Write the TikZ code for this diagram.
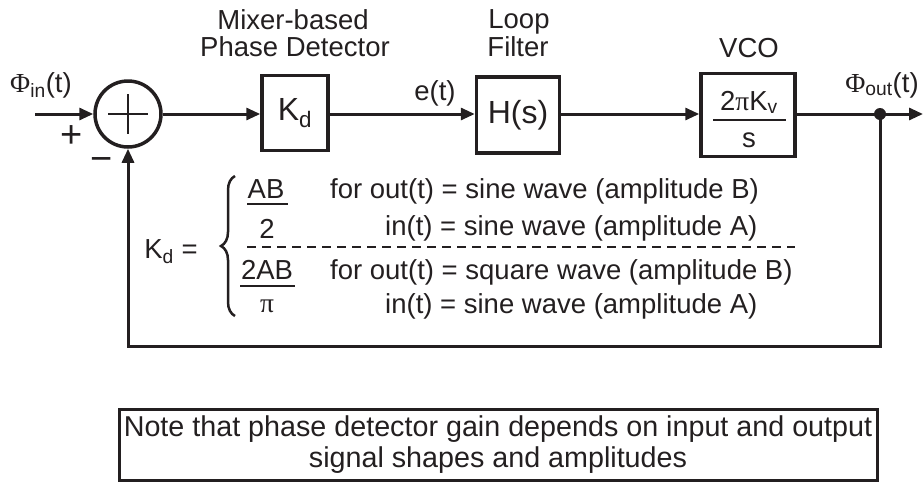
\documentclass[tikz,border=0pt]{standalone}
\usepackage{fontspec}
\setmainfont{Liberation Sans}
\newfontfamily\grk{Liberation Serif}
\usetikzlibrary{arrows.meta,decorations.pathreplacing}
\definecolor{ink}{RGB}{35,31,32}
\begin{document}
\begin{tikzpicture}[x=1pt,y=-1pt,
  every node/.style={text=ink, inner sep=0pt},
  wire/.style={draw=ink, line width=3pt},
  arr/.style={wire, -{Triangle[length=14pt,width=12pt]}},
  blk/.style={draw=ink, line width=3.5pt},
  txt/.style={font=\fontsize{27.5}{30}\selectfont},
  big/.style={font=\fontsize{32}{36}\selectfont},
  sign/.style={font=\fontsize{38}{40}\selectfont},
  thin/.style={draw=ink, line width=2.5pt}]
\useasboundingbox (0,0) rectangle (924,483);

% input
\coordinate (inp) at (35,114);
\node[circle, blk, minimum size=66pt] (sum) at (128,114) {};
\draw[draw=ink, line width=2pt] (sum.center) +(-20,0) -- +(20,0);
\draw[draw=ink, line width=2pt] (sum.center) +(0,-20) -- +(0,20);
\node[txt, anchor=base] (phiin) at (41,92) {{\grk Φ}\textsubscript{in}(t)};
\node[sign] (plus) at (72,137) {+};
\node[sign] (minus) at (102,164) {−};

% blocks
\node[blk, big, minimum width=66pt, minimum height=75pt] (kd) at (295,113) {K\textsubscript{d}};
\node[blk, big, minimum width=83pt, minimum height=76pt] (hs) at (518,115) {H(s)};
\node[blk, minimum width=94pt, minimum height=83pt] (vco) at (748,115) {};
\node[txt, anchor=base] (vnum) at (749,110) {2{\grk π}K\textsubscript{v}};
\node[txt, anchor=base] (vden) at (749,147) {s};
\coordinate (vl) at (713,120);
\coordinate (vr) at (786,120);
\draw[thin] (vl) -- (vr);

% titles
\node[txt, anchor=base] (t1) at (293,29) {Mixer-based};
\node[txt, anchor=base] (t2) at (295,56) {Phase Detector};
\node[txt, anchor=base] (t3) at (519,28) {Loop};
\node[txt, anchor=base] (t4) at (518,56) {Filter};
\node[txt, anchor=base] (t5) at (749,57) {VCO};
\node[txt, anchor=base] (et) at (435,100) {e(t)};
\node[txt, anchor=base] (phiout) at (882,92) {{\grk Φ}\textsubscript{out}(t)};

% connections
\coordinate (dot) at (880,114);
\coordinate (outp) at (923,114);
\coordinate (fbR) at (880,346);
\coordinate (fbL) at (128,346);
\draw[arr] (inp) -- (sum.west);
\draw[arr] (sum.east) -- (kd.west |- sum.east);
\draw[arr] (kd.east |- sum.east) -- (hs.west |- sum.east);
\draw[arr] (hs.east |- sum.east) -- (vco.west |- sum.east);
\draw[wire] (vco.east |- sum.east) -- (dot);
\draw[arr] (dot) -- (outp);
\draw[arr] (dot) -- (fbR) -- (fbL) -- (sum.south);
\fill[ink] (dot) circle (6pt);

% Kd equation
\node[txt, anchor=base] (kdeq) at (171,258) {K\textsubscript{d} =};
\draw[draw=ink, line width=2.5pt, decorate, decoration={brace, amplitude=14pt}] (235,316) -- (235,176);
\node[txt, anchor=base] (ab) at (266,198) {AB};
\node[txt, anchor=base] (two) at (267,238) {2};
\coordinate (f1l) at (247,204);
\coordinate (f1r) at (288,204);
\draw[thin] (f1l) -- (f1r);
\node[txt, anchor=base] (tab) at (267,279) {2AB};
\node[txt, anchor=base] (pi) at (267,312) {\grk π};
\coordinate (f2l) at (240,286);
\coordinate (f2r) at (295,286);
\draw[thin] (f2l) -- (f2r);
\coordinate (dl) at (247,247);
\coordinate (dr) at (795,247);
\draw[draw=ink, line width=2.5pt, dash pattern=on 9pt off 6pt] (dl) -- (dr);
\node[txt, anchor=base west] (l1) at (330,198) {for out(t) = sine wave (amplitude B)};
\node[txt, anchor=base west] (l2) at (385,235) {in(t) = sine wave (amplitude A)};
\node[txt, anchor=base west] (l3) at (330,279) {for out(t) = square wave (amplitude B)};
\node[txt, anchor=base west] (l4) at (385,313) {in(t) = sine wave (amplitude A)};

% note
\node[draw=ink, line width=3pt, align=center, font=\fontsize{28.7}{31}\selectfont, minimum width=758pt, minimum height=71pt] (note) at (498,445) {Note that phase detector gain depends on input and output\\signal shapes and amplitudes};
\end{tikzpicture}
\end{document}
